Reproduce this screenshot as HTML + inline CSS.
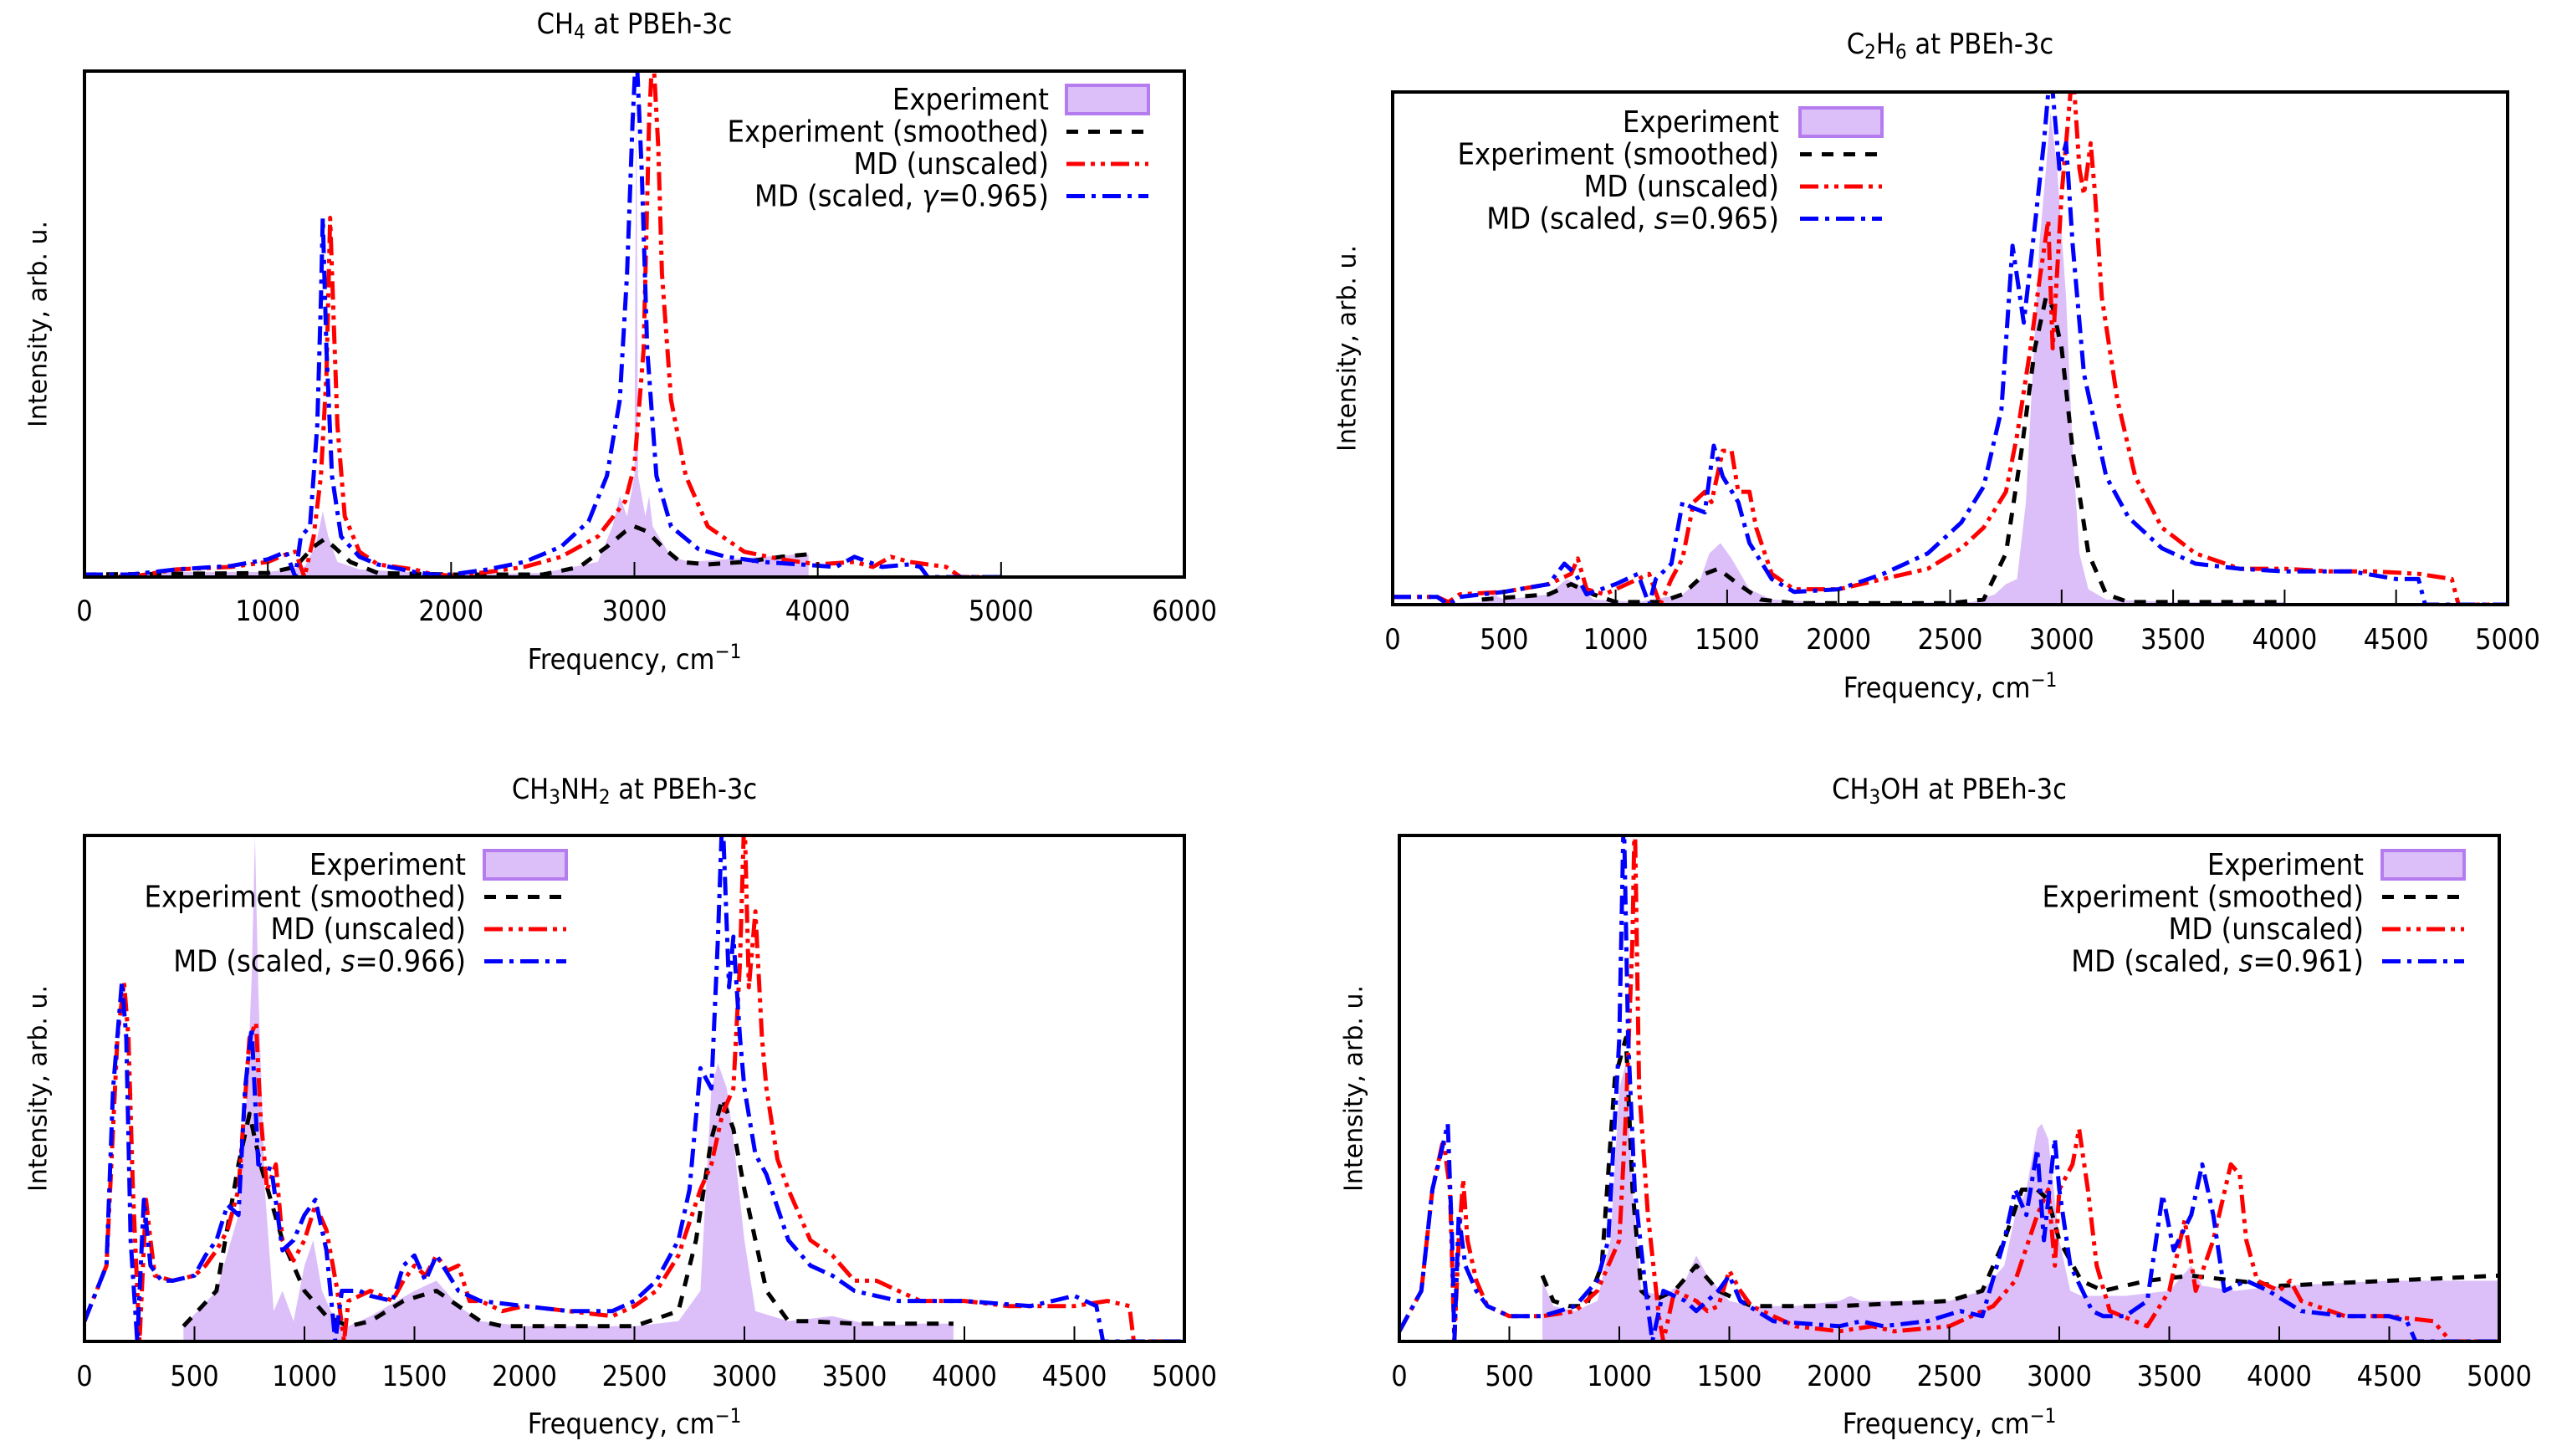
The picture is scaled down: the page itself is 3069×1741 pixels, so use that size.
<!DOCTYPE html>
<html><head><meta charset="utf-8"><style>
html,body{margin:0;padding:0;background:#fff;}
svg{display:block;}
.t{font-family:"DejaVu Sans Condensed","Liberation Sans Narrow","Liberation Sans",sans-serif;font-size:34px;fill:#000;}
.lt{font-family:"DejaVu Sans Condensed","Liberation Sans Narrow","Liberation Sans",sans-serif;font-size:36px;fill:#000;}
.yl{font-family:"DejaVu Sans","Liberation Sans",sans-serif;font-size:30px;fill:#000;}
</style></head><body>
<svg id="fig" width="3069" height="1741" viewBox="0 0 3069 1741" xmlns="http://www.w3.org/2000/svg"></svg>
<script>
// ---------- data (frequency cm^-1, relative intensity 0..1 of plot height) ----------
const xTicks56=[0,1000,2000,3000,4000,5000,6000];
const xTicks5=[0,500,1000,1500,2000,2500,3000,3500,4000,4500,5000];
// CH4
const p1ExpF=[0,400,1000,1200,1260,1300,1330,1380,1500,2000,2500,2800,2880,2920,2960,3000,3010,3020,3060,3080,3100,3200,3300,3500,3700,3900,3950];
const p1ExpI=[0,0.01,0.01,0.02,0.06,0.13,0.08,0.03,0.015,0.005,0.008,0.03,0.1,0.16,0.12,0.2,0.96,0.2,0.12,0.16,0.1,0.04,0.03,0.035,0.04,0.045,0.045];
const p1SmF=[0,1000,1150,1250,1310,1360,1450,1600,2000,2500,2700,2850,2950,3000,3070,3150,3250,3400,3600,3800,3950];
const p1SmI=[0.005,0.008,0.02,0.06,0.075,0.06,0.03,0.008,0.005,0.005,0.02,0.06,0.09,0.1,0.09,0.06,0.03,0.025,0.03,0.04,0.045];
const p1RedF=[0,250,500,800,1000,1100,1150,1200,1250,1290,1320,1340,1360,1380,1420,1500,1600,1700,1800,1900,2000,2200,2400,2600,2800,2950,3000,3050,3080,3100,3130,3150,3200,3280,3400,3600,3800,4000,4200,4300,4400,4500,4700,4780,5000];
const p1RedI=[0.005,0,0.015,0.02,0.03,0.045,0.05,0,0.08,0.2,0.4,0.71,0.5,0.3,0.12,0.05,0.025,0.02,0.015,0.005,0.003,0.01,0.02,0.04,0.08,0.15,0.22,0.45,0.9,1.05,0.85,0.6,0.35,0.2,0.1,0.05,0.035,0.025,0.03,0.02,0.04,0.03,0.02,0,0];
const p1BlueF=[0,250,500,800,1000,1100,1150,1180,1230,1270,1290,1300,1320,1350,1400,1500,1600,1800,1900,2000,2200,2400,2600,2750,2850,2920,2960,2990,3010,3040,3070,3120,3200,3350,3500,3700,3900,4100,4200,4350,4500,4560,4600,5000];
const p1BlueI=[0.005,0.005,0.015,0.022,0.035,0.05,0,0.08,0.1,0.3,0.55,0.71,0.45,0.2,0.08,0.04,0.025,0.01,0.005,0.005,0.015,0.03,0.06,0.11,0.2,0.35,0.6,0.9,1.05,0.8,0.45,0.2,0.1,0.055,0.04,0.03,0.025,0.02,0.04,0.02,0.025,0.02,0,0];
// C2H6
const p2ExpF=[0,400,450,500,700,780,830,900,1100,1300,1380,1420,1470,1520,1600,1700,2000,2600,2700,2750,2800,2840,2870,2900,2930,2950,2980,3020,3050,3080,3120,3200,3500,4000];
const p2ExpI=[0,0.005,0.02,0.01,0.02,0.05,0.04,0.01,0.005,0.02,0.05,0.1,0.12,0.09,0.03,0.01,0.003,0.005,0.02,0.04,0.05,0.2,0.45,0.7,0.85,0.96,0.85,0.6,0.3,0.1,0.03,0.01,0.005,0.005];
const p2SmF=[400,700,800,900,1000,1200,1300,1400,1460,1550,1650,1800,2500,2650,2750,2820,2880,2930,2960,3000,3050,3120,3200,3300,4000];
const p2SmI=[0.01,0.02,0.04,0.02,0.005,0.005,0.02,0.06,0.07,0.04,0.01,0.003,0.003,0.01,0.1,0.3,0.5,0.6,0.58,0.5,0.3,0.1,0.02,0.005,0.005];
const p2RedF=[0,200,250,300,500,700,800,830,870,950,1100,1150,1200,1250,1300,1350,1400,1430,1480,1520,1550,1600,1630,1700,1800,1900,2000,2200,2400,2550,2650,2750,2800,2860,2900,2940,2960,3000,3030,3050,3080,3100,3130,3150,3180,3250,3330,3450,3600,3800,4000,4200,4400,4600,4750,4780,5000];
const p2RedI=[0.015,0.015,0.005,0.02,0.025,0.04,0.06,0.09,0.03,0.02,0.05,0.06,0,0.05,0.09,0.2,0.22,0.2,0.3,0.3,0.22,0.22,0.15,0.06,0.03,0.03,0.03,0.05,0.07,0.11,0.15,0.22,0.33,0.5,0.63,0.75,0.5,0.8,0.95,1.05,0.85,0.8,0.9,0.8,0.6,0.4,0.25,0.15,0.1,0.07,0.07,0.065,0.065,0.06,0.05,0,0];
const p2BlueF=[0,200,250,300,500,700,770,820,870,1000,1100,1150,1180,1250,1300,1340,1400,1440,1480,1550,1600,1700,1800,2000,2200,2400,2550,2650,2730,2780,2830,2870,2920,2950,2990,3020,3050,3100,3200,3300,3450,3600,3800,4000,4300,4500,4600,4630,5000];
const p2BlueI=[0.015,0.015,0,0.015,0.025,0.04,0.08,0.06,0.02,0.04,0.06,0,0.05,0.08,0.2,0.19,0.18,0.31,0.25,0.2,0.12,0.05,0.025,0.03,0.06,0.1,0.16,0.23,0.38,0.7,0.55,0.7,0.9,1.05,0.85,0.9,0.7,0.45,0.25,0.17,0.11,0.08,0.07,0.065,0.065,0.05,0.05,0,0];
// CH3NH2
const p3ExpF=[450,600,700,740,760,775,790,820,860,900,950,1000,1040,1080,1120,1200,1300,1500,1600,1700,1800,2000,2500,2700,2800,2850,2880,2920,2950,3000,3050,3200,3400,3600,3800,3950];
const p3ExpI=[0.03,0.1,0.25,0.5,0.72,1.0,0.7,0.3,0.06,0.1,0.04,0.15,0.2,0.1,0.06,0.03,0.05,0.1,0.12,0.07,0.04,0.03,0.03,0.04,0.1,0.5,0.55,0.5,0.4,0.2,0.06,0.04,0.05,0.03,0.035,0.035];
const p3SmF=[450,600,700,750,800,900,1000,1100,1200,1300,1450,1600,1700,1800,1900,2000,2500,2700,2780,2850,2900,2950,3000,3100,3200,3300,3500,3800,3950];
const p3SmI=[0.03,0.1,0.35,0.45,0.35,0.2,0.1,0.05,0.03,0.04,0.08,0.1,0.07,0.04,0.03,0.03,0.03,0.06,0.2,0.4,0.48,0.42,0.3,0.1,0.04,0.04,0.035,0.035,0.035];
const p3RedF=[0,100,150,180,200,220,250,280,300,320,400,500,550,600,650,700,750,780,800,830,870,900,950,1000,1050,1100,1150,1180,1200,1300,1400,1450,1500,1550,1600,1650,1700,1750,1800,1900,2000,2200,2400,2500,2600,2700,2800,2850,2900,2950,2980,3000,3020,3050,3080,3100,3150,3200,3300,3400,3500,3600,3800,4000,4200,4500,4650,4750,4770,5000];
const p3RedI=[0.04,0.15,0.6,0.71,0.6,0.3,0,0.28,0.2,0.13,0.12,0.13,0.15,0.18,0.22,0.3,0.6,0.63,0.45,0.3,0.35,0.2,0.16,0.2,0.27,0.22,0.1,0,0.08,0.1,0.08,0.12,0.15,0.13,0.17,0.14,0.15,0.08,0.08,0.06,0.07,0.06,0.05,0.07,0.1,0.17,0.3,0.35,0.45,0.5,0.75,1.05,0.7,0.85,0.6,0.5,0.36,0.3,0.2,0.17,0.12,0.12,0.08,0.08,0.07,0.07,0.08,0.07,0,0];
const p3BlueF=[0,100,130,170,190,210,240,270,300,350,400,500,550,600,650,700,730,760,790,850,900,950,1000,1050,1100,1140,1170,1250,1300,1400,1450,1500,1550,1600,1700,1800,2000,2200,2400,2500,2600,2700,2750,2800,2850,2880,2900,2930,2950,2980,3000,3050,3100,3200,3300,3400,3500,3700,4000,4300,4500,4600,4630,5000];
const p3BlueI=[0.04,0.15,0.5,0.71,0.6,0.2,0,0.28,0.15,0.12,0.12,0.13,0.17,0.2,0.27,0.25,0.5,0.62,0.35,0.34,0.18,0.2,0.25,0.28,0.18,0,0.1,0.1,0.09,0.08,0.15,0.17,0.12,0.17,0.1,0.08,0.07,0.06,0.06,0.08,0.12,0.2,0.3,0.54,0.5,0.8,1.05,0.7,0.8,0.6,0.5,0.37,0.33,0.2,0.15,0.13,0.1,0.08,0.08,0.07,0.09,0.07,0,0];
// CH3OH
const p4ExpF=[650,700,800,900,960,1000,1030,1060,1100,1200,1300,1350,1400,1500,1600,1800,2000,2050,2100,2500,2650,2750,2800,2850,2900,2920,2950,3000,3050,3100,3300,3500,3600,3650,3800,4000,4500,5000];
const p4ExpI=[0.12,0.07,0.06,0.08,0.2,0.5,0.55,0.3,0.1,0.09,0.12,0.17,0.13,0.08,0.07,0.07,0.08,0.09,0.08,0.08,0.1,0.15,0.25,0.3,0.42,0.43,0.4,0.2,0.1,0.09,0.09,0.1,0.15,0.11,0.1,0.11,0.12,0.12];
const p4SmF=[650,700,770,850,920,980,1030,1060,1100,1150,1250,1350,1450,1550,1600,1800,2000,2500,2650,2750,2830,2900,2950,3000,3100,3200,3400,3600,3800,4000,4500,5000];
const p4SmI=[0.13,0.08,0.07,0.07,0.15,0.52,0.6,0.3,0.1,0.08,0.1,0.15,0.1,0.08,0.07,0.07,0.07,0.08,0.1,0.2,0.3,0.3,0.28,0.2,0.12,0.1,0.12,0.13,0.12,0.11,0.12,0.13];
const p4RedF=[0,100,150,200,230,250,270,290,310,350,400,500,650,800,900,1000,1030,1060,1070,1090,1130,1180,1200,1250,1350,1400,1450,1500,1550,1600,1800,2000,2150,2250,2500,2600,2700,2800,2900,2950,2980,3000,3060,3090,3130,3170,3230,3400,3500,3570,3620,3700,3780,3820,3850,3900,4000,4050,4100,4300,4500,4700,4780,5000];
const p4RedI=[0.02,0.1,0.3,0.4,0.3,0,0.2,0.32,0.2,0.12,0.07,0.05,0.05,0.06,0.1,0.2,0.45,0.8,1.05,0.5,0.25,0.05,0,0.1,0.08,0.06,0.07,0.14,0.1,0.07,0.03,0.02,0.03,0.02,0.03,0.05,0.07,0.12,0.25,0.3,0.15,0.3,0.35,0.42,0.3,0.15,0.06,0.03,0.1,0.24,0.1,0.2,0.35,0.33,0.2,0.12,0.1,0.12,0.08,0.05,0.05,0.04,0,0];
const p4BlueF=[0,100,150,220,240,250,270,300,350,400,500,650,800,900,950,1000,1020,1040,1070,1120,1150,1200,1300,1350,1450,1500,1550,1700,2000,2100,2200,2400,2550,2650,2750,2800,2850,2900,2930,2980,3000,3050,3150,3200,3300,3400,3470,3520,3600,3650,3700,3750,3850,3950,4100,4300,4500,4580,4620,5000];
const p4BlueI=[0.02,0.1,0.3,0.43,0.2,0,0.25,0.15,0.1,0.07,0.05,0.05,0.07,0.12,0.2,0.6,1.05,0.6,0.3,0.1,0,0.1,0.08,0.06,0.1,0.13,0.08,0.04,0.03,0.04,0.03,0.04,0.06,0.05,0.2,0.3,0.25,0.38,0.2,0.4,0.3,0.15,0.06,0.05,0.05,0.08,0.29,0.18,0.25,0.35,0.25,0.1,0.12,0.1,0.06,0.05,0.05,0.04,0,0];

// ---------- layout ----------
const NS='http://www.w3.org/2000/svg';
const svg=document.getElementById('fig');
function mk(tag,attrs,parent){const e=document.createElementNS(NS,tag);for(const k in attrs)e.setAttribute(k,attrs[k]);(parent||svg).appendChild(e);return e;}
const panels=[
 {id:'ch4',x0:101,x1:1416,y0:85,y1:690,xmax:6000,ticks:xTicks56,titleY:40,tickY:742,xlY:800,ylX:47,
  title:[['CH',0],['4',1],[' at PBEh-3c',0]],legX:1254,legS:1275,legY:119,label:'γ',val:'0.965',
  exp:[p1ExpF,p1ExpI],sm:[p1SmF,p1SmI],red:[p1RedF,p1RedI],blue:[p1BlueF,p1BlueI]},
 {id:'c2h6',x0:1665,x1:2998,y0:110,y1:723,xmax:5000,ticks:xTicks5,titleY:64,tickY:776,xlY:834,ylX:1612,
  title:[['C',0],['2',1],['H',0],['6',1],[' at PBEh-3c',0]],legX:2127,legS:2152,legY:146,label:'s',val:'0.965',
  exp:[p2ExpF,p2ExpI],sm:[p2SmF,p2SmI],red:[p2RedF,p2RedI],blue:[p2BlueF,p2BlueI]},
 {id:'ch3nh2',x0:101,x1:1416,y0:999,y1:1604,xmax:5000,ticks:xTicks5,titleY:955,tickY:1657,xlY:1714,ylX:47,
  title:[['CH',0],['3',1],['NH',0],['2',1],[' at PBEh-3c',0]],legX:557,legS:579,legY:1034,label:'s',val:'0.966',
  exp:[p3ExpF,p3ExpI],sm:[p3SmF,p3SmI],red:[p3RedF,p3RedI],blue:[p3BlueF,p3BlueI]},
 {id:'ch3oh',x0:1673,x1:2988,y0:999,y1:1604,xmax:5000,ticks:xTicks5,titleY:955,tickY:1657,xlY:1714,ylX:1620,
  title:[['CH',0],['3',1],['OH at PBEh-3c',0]],legX:2826,legS:2848,legY:1034,label:'s',val:'0.961',
  exp:[p4ExpF,p4ExpI],sm:[p4SmF,p4SmI],red:[p4RedF,p4RedI],blue:[p4BlueF,p4BlueI]}
];
const LW=5;
const DASH_BLACK='14,12', DASH_RED='22,7,5,7,5,7', DASH_BLUE='22,8,5,8';
const FILL='#dcbff9', FILLSTROKE='#b57cf0';

panels.forEach((p,pi)=>{
  const g=mk('g',{});
  
  
  const sx=f=>p.x0+(f/p.xmax)*(p.x1-p.x0);
  const sy=v=>p.y1-v*(p.y1-p.y0);
  const cid='clip'+pi;
  const cp=mk('clipPath',{id:cid},g);
  mk('rect',{x:p.x0,y:p.y0,width:p.x1-p.x0,height:p.y1-p.y0},cp);
  const pg=mk('g',{'clip-path':'url(#'+cid+')'},g);
  
  
  const F=p.exp[0],I=p.exp[1];
  let pts=sx(F[0]).toFixed(1)+','+sy(0).toFixed(1)+' ';
  for(let i=0;i<F.length;i++)pts+=sx(F[i]).toFixed(1)+','+sy(I[i]).toFixed(1)+' ';
  pts+=sx(F[F.length-1]).toFixed(1)+','+sy(0).toFixed(1);
  const ef=mk('polygon',{points:pts,fill:FILL,stroke:'none'},pg);
  
  
  function line(d,color,dash,name){
    let s='';for(let i=0;i<d[0].length;i++)s+=(i?'L':'M')+sx(d[0][i]).toFixed(1)+','+sy(d[1][i]).toFixed(1);
    const el=mk('path',{d:s,fill:'none',stroke:color,'stroke-width':LW,'stroke-dasharray':dash,'stroke-linejoin':'round'},pg);
    
    
  }
  line(p.sm,'#000',DASH_BLACK,'experiment-smoothed-line');
  line(p.red,'#ff0000',DASH_RED,'md-unscaled-line');
  line(p.blue,'#0000ff',DASH_BLUE,'md-scaled-line');
  p.ticks.forEach(t=>{
    const x=sx(t);
    const tk=mk('line',{x1:x,x2:x,y1:p.y1,y2:p.y1-18,stroke:'#000','stroke-width':2},g);
    
    
    const tl=mk('text',{x:x,y:p.tickY,'text-anchor':'middle',class:'t'},g);
    tl.textContent=String(t);
    
    
  });
  const fr=mk('rect',{x:p.x0,y:p.y0,width:p.x1-p.x0,height:p.y1-p.y0,fill:'none',stroke:'#000','stroke-width':4},g);
  
  
  const cx=(p.x0+p.x1)/2;
  const tt=mk('text',{x:cx,y:p.titleY,'text-anchor':'middle',class:'t'},g);
  
  
  p.title.forEach(([s,sub])=>{const ts=mk('tspan',sub?{'font-size':'24px','baseline-shift':'-25%'}:{},tt);ts.textContent=s;});
  const xl=mk('text',{x:cx,y:p.xlY,'text-anchor':'middle',class:'t'},g);
  
  
  const a=mk('tspan',{},xl);a.textContent='Frequency, cm';
  const b=mk('tspan',{'font-size':'24px','baseline-shift':'55%'},xl);b.textContent='−1';
  const yc=(p.y0+p.y1)/2;
  const yl=mk('text',{x:p.ylX,y:yc,'text-anchor':'middle',class:'yl',transform:'rotate(-90 '+p.ylX+' '+yc+')','dominant-baseline':'middle'},g);
  yl.textContent='Intensity, arb. u.';
  
  
  const lg=mk('g',{},g);
  
  
  const rows=['Experiment','Experiment (smoothed)','MD (unscaled)'];
  for(let r=0;r<4;r++){
    const y=p.legY+r*38.5;
    const tx=mk('text',{x:p.legX,y:y+12,'text-anchor':'end',class:'lt'},lg);
    
    
    if(r<3){tx.textContent=rows[r];}
    else{const s1=mk('tspan',{},tx);s1.textContent='MD (scaled, ';const s2=mk('tspan',{'font-style':'italic'},tx);s2.textContent=p.label;const s3=mk('tspan',{},tx);s3.textContent='='+p.val+')';}
    const L=p.legS,R=p.legS+98;
    if(r===0){const sw=mk('rect',{x:L,y:y-17,width:R-L,height:34,fill:FILL,stroke:FILLSTROKE,'stroke-width':4},lg);
      }
    else{const col=['#000','#ff0000','#0000ff'][r-1],ds=[DASH_BLACK,DASH_RED,DASH_BLUE][r-1];
      const sw=mk('line',{x1:L,x2:R,y1:y,y2:y,stroke:col,'stroke-width':LW,'stroke-dasharray':ds},lg);
      }
  }
});
</script>
</body></html>
